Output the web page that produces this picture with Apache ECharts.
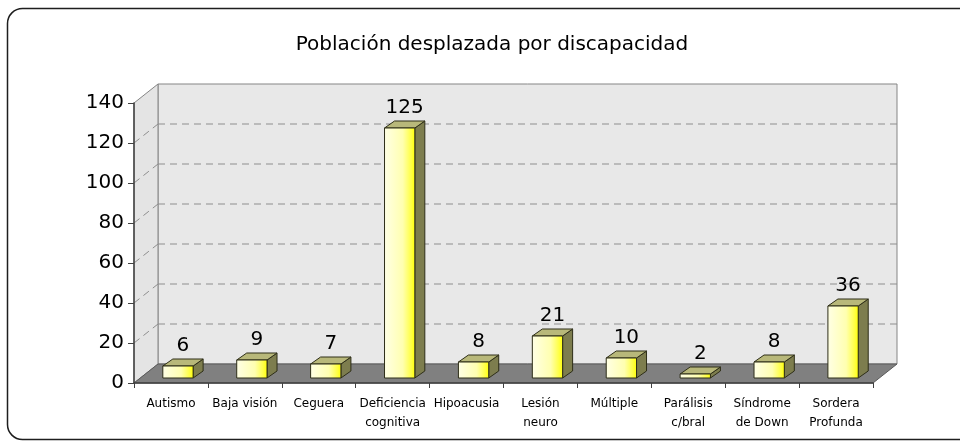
<!DOCTYPE html>
<html>
<head>
<meta charset="utf-8">
<script src="https://cdn.jsdelivr.net/npm/echarts@6/dist/echarts.min.js"></script>
<style>
  html, body { margin: 0; padding: 0; background: #fff; }
  #chart { width: 960px; height: 441px; }
</style>
</head>
<body>
<div id="chart"></div>
<script>
// datos
const categories = [
  "Autismo", "Baja visión", "Ceguera", "Deficiencia\ncognitiva", "Hipoacusia",
  "Lesión\nneuro", "Múltiple", "Parálisis\nc/bral", "Síndrome\nde Down", "Sordera\nProfunda"
];
const values = [6, 9, 7, 125, 8, 21, 10, 2, 8, 36];
const gridValues = [20, 40, 60, 80, 100, 120];

const FONT = "DejaVu Sans";
const DX = 24, DY = -19; // profundidad de la pared del fondo

const chart = echarts.init(document.getElementById("chart"));

function renderWalls(params, api) {
  const cs = params.coordSys;
  const x0 = cs.x, y0 = cs.y, w = cs.width, h = cs.height;
  const by = y0 + h;
  const children = [];
  // pared del fondo
  children.push({
    type: "rect",
    shape: { x: x0 + DX, y: y0 + DY, width: w, height: h },
    style: { fill: "#e8e8e8", stroke: "#858585", lineWidth: 1 }
  });
  // pared lateral
  children.push({
    type: "polygon",
    shape: { points: [[x0, y0], [x0 + DX, y0 + DY], [x0 + DX, by + DY], [x0, by]] },
    style: { fill: "#e4e4e4", stroke: "#858585", lineWidth: 1 }
  });
  // piso
  children.push({
    type: "polygon",
    shape: { points: [[x0, by], [x0 + DX, by + DY], [x0 + w + DX, by + DY], [x0 + w, by]] },
    style: { fill: "#808080", stroke: "#5a5a5a", lineWidth: 1 }
  });
  gridValues.forEach(function (v) {
    const yy = api.coord([0, v])[1];
    children.push({
      type: "line",
      shape: { x1: x0 + DX, y1: yy + DY, x2: x0 + w + DX, y2: yy + DY },
      style: { stroke: "#8e8e8e", lineWidth: 1, lineDash: [7, 5] }
    });
    children.push({
      type: "line",
      shape: { x1: x0, y1: yy, x2: x0 + DX, y2: yy + DY },
      style: { stroke: "#8e8e8e", lineWidth: 1, lineDash: [7, 5] }
    });
  });
  return { type: "group", children: children };
}

function renderBar(params, api) {
  const idx = api.value(0);
  const v = api.value(1);
  const base = api.coord([idx, 0]);
  const top = api.coord([idx, v]);
  const bw = api.size([1, 0])[0];
  const fw = bw * 0.41;
  const dx = 10, dy = -7;
  const x0 = base[0] - fw / 2 + bw * 0.095;
  const x1 = x0 + fw;
  const yb = base[1] - 5;
  const yt = top[1] - 5;
  const edge = { stroke: "#2e2e18", lineWidth: 1 };
  return {
    type: "group",
    children: [
      {
        type: "polygon",
        shape: { points: [[x1, yb], [x1 + dx, yb + dy], [x1 + dx, yt + dy], [x1, yt]] },
        style: Object.assign({ fill: "#7d7d4e" }, edge)
      },
      {
        type: "polygon",
        shape: { points: [[x0, yt], [x1, yt], [x1 + dx, yt + dy], [x0 + dx, yt + dy]] },
        style: Object.assign({ fill: "#b8b87a" }, edge)
      },
      {
        type: "rect",
        shape: { x: x0, y: yt, width: fw, height: yb - yt },
        style: Object.assign({
          fill: new echarts.graphic.LinearGradient(0, 0, 1, 0, [
            { offset: 0, color: "#ffffe6" },
            { offset: 0.6, color: "#ffffb0" },
            { offset: 0.88, color: "#ffff40" },
            { offset: 1, color: "#ffff00" }
          ])
        }, edge)
      },
      {
        type: "text",
        style: {
          text: String(v),
          x: x0 + fw / 2 + dx / 2,
          y: yt + dy - 3,
          align: "center",
          verticalAlign: "bottom",
          font: "20px " + FONT,
          fill: "#000"
        }
      }
    ]
  };
}

const option = {
  backgroundColor: "#fff",
  animation: false,
  title: {
    text: "Población desplazada por discapacidad",
    left: 487,
    top: 30,
    textAlign: "center",
    textStyle: { fontFamily: FONT, fontSize: 20, fontWeight: "normal", color: "#000" }
  },
  graphic: [{
    type: "rect",
    shape: { x: 7.5, y: 8.5, width: 980, height: 431, r: 15 },
    style: { fill: "none", stroke: "#1e1e1e", lineWidth: 1.5 },
    z: 0
  }],
  grid: { left: 134, right: 87, top: 103, bottom: 58 },
  xAxis: {
    type: "category",
    data: categories,
    z: 10,
    axisLine: { lineStyle: { color: "#404040", width: 1.5 } },
    axisTick: { show: true, length: 5, alignWithLabel: false, lineStyle: { color: "#404040" } },
    axisLabel: {
      interval: 0, margin: 11, fontFamily: FONT, fontSize: 12, lineHeight: 19, color: "#000"
    },
    splitLine: { show: false }
  },
  yAxis: {
    type: "value",
    min: 0, max: 140, interval: 20,
    z: 10,
    axisLine: { show: true, lineStyle: { color: "#404040", width: 1.5 } },
    axisTick: { show: true, length: 6, lineStyle: { color: "#404040" } },
    axisLabel: { margin: 10, fontFamily: FONT, fontSize: 20, color: "#000" },
    splitLine: { show: false }
  },
  series: [
    {
      type: "custom",
      z: 1,
      clip: false,
      silent: true,
      renderItem: renderWalls,
      data: [[0, 0]]
    },
    {
      type: "custom",
      z: 3,
      clip: false,
      renderItem: renderBar,
      encode: { x: 0, y: 1 },
      data: values.map(function (v, i) { return [i, v]; })
    }
  ]
};

chart.setOption(option);
</script>
</body>
</html>
